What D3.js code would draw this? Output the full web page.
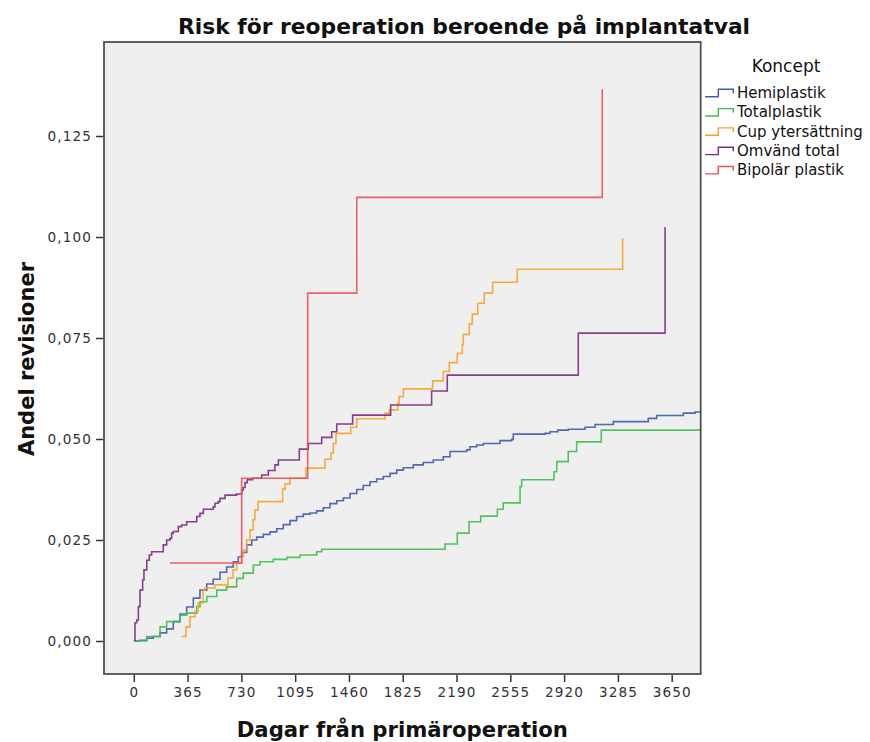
<!DOCTYPE html>
<html>
<head>
<meta charset="utf-8">
<script src="https://cdn.jsdelivr.net/npm/d3@7"></script>
<style>
    body { margin: 0; background: #ffffff; }
    text { font-family: "DejaVu Sans", sans-serif; }
</style>
</head>
<body>
<div id="chart"></div>
<script>

// legend entries, in the order of the legend
var concepts = ["Hemiplastik", "Totalplastik", "Cup ytersättning", "Omvänd total", "Bipolär plastik"]
var conceptColors = ["#4159ab", "#3fbe4d", "#f9a12c", "#7b2b83", "#ef4e58"]

// cumulative share of revisions, step points [days, share]
var hemiplastik = [[0,0],[42,0.0002],[88,0.0007],[132,0.0011],[178,0.002],[223,0.003],[268,0.0048],[313,0.0067],
    [359,0.0084],[404,0.0106],[449,0.0126],[495,0.0141],[539,0.0153],[585,0.017],[630,0.0183],[675,0.0196],
    [709,0.0208],[732,0.0219],[766,0.0238],[800,0.025],[834,0.0257],[879,0.0264],[924,0.027],[970,0.0278],
    [1014,0.0288],[1060,0.0298],[1105,0.0308],[1150,0.0314],[1196,0.0317],[1241,0.0322],[1286,0.033],
    [1331,0.034],[1377,0.0347],[1422,0.0354],[1467,0.0365],[1513,0.0375],[1557,0.0385],[1603,0.0394],
    [1648,0.0401],[1693,0.0407],[1739,0.0415],[1784,0.0423],[1829,0.0429],[1897,0.0436],[1964,0.0442],
    [2032,0.0448],[2100,0.0456],[2146,0.0469],[2259,0.0473],[2281,0.0481],[2327,0.0485],[2372,0.0489],
    [2485,0.0496],[2564,0.0499],[2575,0.0512],[2790,0.0514],[2824,0.0518],[2878,0.0522],[2948,0.0524],
    [3062,0.0529],[3130,0.0536],[3254,0.0543],[3491,0.0551],[3548,0.0558],[3729,0.0564],[3809,0.0567],[3900,0.0567]]

var totalplastik = [[0,0],[88,0.0011],[178,0.0035],[223,0.0048],[313,0.0064],[359,0.0069],[427,0.0085],
    [449,0.0097],[495,0.011],[563,0.0126],[630,0.0134],[698,0.0155],[743,0.0168],[811,0.0188],[856,0.0196],
    [947,0.0202],[1038,0.0207],[1128,0.0213],[1241,0.0221],[1275,0.0227],[2112,0.024],[2195,0.0267],
    [2275,0.0295],[2354,0.0309],[2467,0.0326],[2507,0.0342],[2621,0.0382],[2632,0.0399],[2851,0.0419],
    [2870,0.0444],[2948,0.0469],[3005,0.0493],[3172,0.0522],[3900,0.0522]]

var cupYtersattning = [[325,0.0011],[354,0.0035],[381,0.006],[415,0.0073],[436,0.0094],[470,0.0126],
    [483,0.0131],[551,0.0139],[639,0.0156],[673,0.0176],[698,0.0193],[732,0.0209],[743,0.0225],[766,0.025],
    [789,0.0275],[809,0.03],[822,0.0324],[843,0.0345],[1010,0.0376],[1026,0.0389],[1060,0.0403],
    [1168,0.0428],[1297,0.045],[1338,0.0465],[1354,0.0489],[1372,0.0514],[1472,0.0529],[1513,0.055],
    [1705,0.0564],[1734,0.0572],[1791,0.0588],[1800,0.0605],[1829,0.0624],[2028,0.0644],[2100,0.0667],
    [2141,0.0689],[2195,0.0712],[2229,0.0734],[2236,0.0759],[2277,0.0785],[2297,0.0809],[2334,0.0836],
    [2378,0.0861],[2435,0.0888],[2602,0.092],[3317,0.0997]]

var omvandTotal = [[8,0],[8,0.0045],[20,0.0052],[31,0.0085],[42,0.0126],[60,0.0151],[69,0.0176],[88,0.02],
    [105,0.0213],[121,0.0221],[200,0.0238],[223,0.025],[246,0.0254],[257,0.0267],[268,0.0271],[302,0.0283],
    [325,0.0287],[359,0.0295],[427,0.0308],[449,0.0316],[472,0.0326],[539,0.0332],[551,0.0341],[573,0.0345],
    [585,0.0353],[619,0.0361],[698,0.0364],[732,0.0374],[743,0.038],[755,0.0392],[770,0.0399],[807,0.0403],
    [868,0.0411],[913,0.0422],[958,0.0436],[981,0.0448],[1123,0.0475],[1184,0.0489],[1275,0.0504],
    [1343,0.0518],[1377,0.0537],[1485,0.0559],[1743,0.0584],[2021,0.0619],[2127,0.0658],[3016,0.0762],
    [3605,0.1025]]

var bipolarPlastik = [[246,0.0193],[732,0.0403],[1180,0.0861],[1513,0.1098],[3179,0.1366]]

var seriesData = [hemiplastik, totalplastik, cupYtersattning, omvandTotal, bipolarPlastik]

var xTicks = [0, 365, 730, 1095, 1460, 1825, 2190, 2555, 2920, 3285, 3650]
var yTicks = [0, 0.025, 0.05, 0.075, 0.1, 0.125]

var chartTitle = "Risk för reoperation beroende på implantatval"
var xTitle = "Dagar från primäroperation"
var yTitle = "Andel revisioner"
var legendTitle = "Koncept"

// plot box inside the 870x742 page
var plot = {left: 104, top: 42, right: 700.7, bottom: 674}
var width = 870, height = 742

var svg = d3.select("#chart")
    .append("svg")
    .attr("width", width)
    .attr("height", height)

var x = d3.scaleLinear()
    .domain([-202.2, 3846.8])
    .range([plot.left, plot.right])

var y = d3.scaleLinear()
    .domain([-0.00817, 0.14827])
    .range([plot.bottom, plot.top])

// plot background
svg.append("rect")
    .attr("x", plot.left)
    .attr("y", plot.top)
    .attr("width", plot.right - plot.left)
    .attr("height", plot.bottom - plot.top)
    .attr("fill", "#efefef")

svg.append("clipPath")
    .attr("id", "plotClip")
    .append("rect")
    .attr("x", plot.left)
    .attr("y", plot.top)
    .attr("width", plot.right - plot.left)
    .attr("height", plot.bottom - plot.top)

var line = d3.line()
    .x(d => x(d[0]))
    .y(d => y(d[1]))
    .curve(d3.curveStepAfter)

svg.append("g")
    .attr("clip-path", "url(#plotClip)")
    .selectAll("path")
    .data(seriesData)
    .enter()
    .append("path")
    .attr("d", d => line(d))
    .attr("fill", "none")
    .attr("stroke", (d, i) => conceptColors[i])
    .attr("stroke-width", 1.6)
    .attr("stroke-opacity", 0.9)

// frame
svg.append("rect")
    .attr("x", plot.left)
    .attr("y", plot.top)
    .attr("width", plot.right - plot.left)
    .attr("height", plot.bottom - plot.top)
    .attr("fill", "none")
    .attr("stroke", "#4f4f4f")
    .attr("stroke-width", 1.8)

// axes
var xAxis = svg.append("g")
    .attr("transform", "translate(0," + (plot.bottom + 1) + ")")
    .call(d3.axisBottom(x).tickValues(xTicks).tickSize(7).tickPadding(5).tickSizeOuter(0)
        .tickFormat(d => String(d)))
xAxis.select(".domain").remove()

var yAxis = svg.append("g")
    .attr("transform", "translate(" + (plot.left - 1) + ",0)")
    .call(d3.axisLeft(y).tickValues(yTicks).tickSize(7).tickPadding(4).tickSizeOuter(0)
        .tickFormat(d => d3.format(".3f")(d).replace(".", ",")))
yAxis.select(".domain").remove()

svg.selectAll(".tick line").attr("stroke", "#333").attr("stroke-width", 1.5)
svg.selectAll(".tick text")
    .attr("font-family", "DejaVu Sans")
    .attr("font-size", "13.6px")
    .attr("letter-spacing", "1.1px")
    .attr("fill", "#333")

// titles
svg.append("text")
    .attr("x", 464)
    .attr("y", 34)
    .attr("text-anchor", "middle")
    .attr("font-size", "21.8px")
    .attr("font-weight", "bold")
    .attr("fill", "#111")
    .text(chartTitle)

svg.append("text")
    .attr("x", (plot.left + plot.right) / 2)
    .attr("y", 737)
    .attr("text-anchor", "middle")
    .attr("font-size", "21.2px")
    .attr("font-weight", "bold")
    .attr("fill", "#111")
    .text(xTitle)

svg.append("text")
    .attr("transform", "translate(34," + ((plot.top + plot.bottom) / 2 + 1) + ") rotate(-90)")
    .attr("text-anchor", "middle")
    .attr("font-size", "21px")
    .attr("font-weight", "bold")
    .attr("fill", "#111")
    .text(yTitle)

// legend
var legend = svg.append("g").attr("id", "legend")

legend.append("text")
    .attr("x", 786)
    .attr("y", 72)
    .attr("text-anchor", "middle")
    .attr("font-size", "17px")
    .attr("fill", "#111")
    .text(legendTitle)

var items = legend.selectAll("g.legend-item")
    .data(concepts)
    .enter()
    .append("g")
    .attr("class", "legend-item")
    .attr("transform", (d, i) => "translate(705," + (93 + i * 19.3) + ")")

items.append("path")
    .attr("d", "M0,3.7 H13.3 V-3.7 H28.3 V0.3")
    .attr("fill", "none")
    .attr("stroke", (d, i) => conceptColors[i])
    .attr("stroke-width", 1.4)

items.append("text")
    .attr("x", 32)
    .attr("y", 5)
    .attr("font-size", "15px")
    .attr("fill", "#111")
    .text(d => d)

</script>
</body>
</html>
